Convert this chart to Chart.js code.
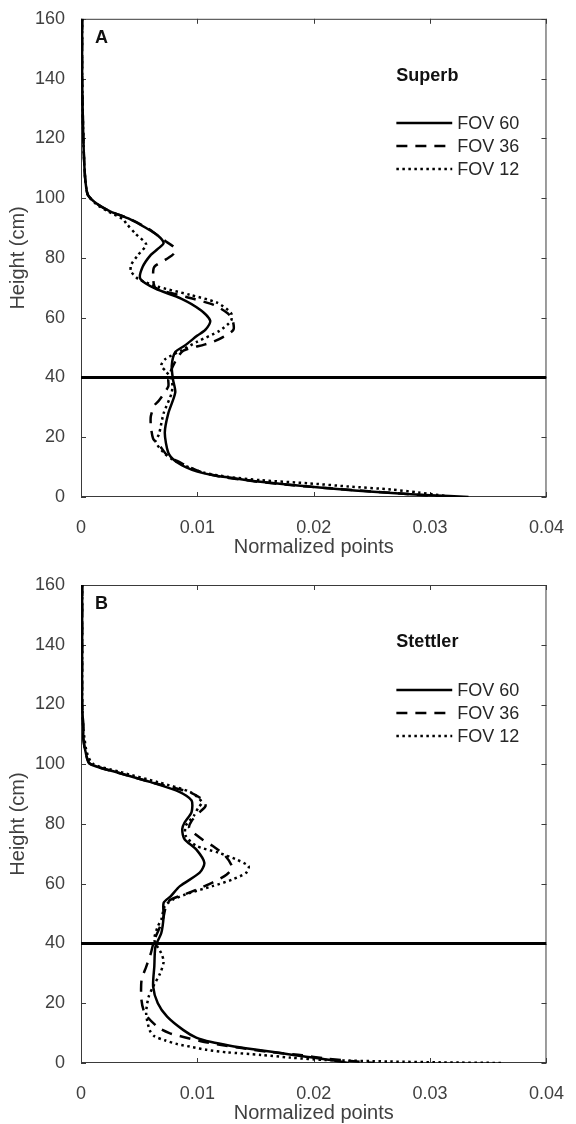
<!DOCTYPE html>
<html>
<head>
<meta charset="utf-8">
<title>Vertical point profiles</title>
<script src="https://cdn.jsdelivr.net/npm/chart.js@4.4.1/dist/chart.umd.min.js"></script>
<style>
  html, body { margin: 0; padding: 0; background: #fff; }
  #wrap { position: relative; width: 576px; height: 1124px; }
  canvas { position: absolute; left: 0; }
</style>
</head>
<body>
<div id="wrap">
  <canvas id="panelA" width="576" height="562" style="top:0"></canvas>
  <canvas id="panelB" width="576" height="562" style="top:562px"></canvas>
</div>
<script>
// ── Axis ticks ────────────────────────────────────────────
const xTickLabels = ['0', '0.01', '0.02', '0.03', '0.04'];
const yTickLabels = ['0', '20', '40', '60', '80', '100', '120', '140', '160'];
const seriesNames = ['FOV 60', 'FOV 36', 'FOV 12'];
const refHeight   = 40;

// ── Panel A (Superb) ─────────────────────────────────────
const hA60 = [160, 140, 120, 110, 105, 101, 98, 95.6, 93, 90, 87.5, 85, 83, 81, 77, 73, 69.7, 66.4, 62.5, 59, 56, 54, 50.6, 48.5, 44, 39.4, 35, 28, 21.5, 14.8, 12, 10, 8.5, 7.2, 6.2, 5.2, 4.2, 3.2, 2.2, 1.3, 0.6, 0];
const vA60 = [0.0001, 0.0001, 0.0002, 0.0003, 0.0004, 0.0006, 0.0014, 0.0025, 0.0042, 0.0056, 0.0066, 0.0071, 0.0066, 0.006, 0.0053, 0.0051, 0.0064, 0.0086, 0.0103, 0.0111, 0.0107, 0.010, 0.0089, 0.0081, 0.0078, 0.0079, 0.0081, 0.0075, 0.0072, 0.0075, 0.0081, 0.009, 0.010, 0.0115, 0.0133, 0.0152, 0.0177, 0.0205, 0.0235, 0.0267, 0.030, 0.0333];

const hA36 = [160, 140, 120, 110, 105, 101, 98, 95.6, 93, 90, 87.5, 85.5, 83.5, 81.5, 79.5, 77, 74, 70, 67, 64.3, 61.5, 59.5, 56, 53.5, 52, 51, 49, 46, 42, 39.4, 37, 32.3, 30.6, 27, 24, 19.5, 17.5, 13.5, 12, 10, 8, 6.5, 5.2, 4, 3, 2, 1, 0.4, 0];
const vA36 = [0.0001, 0.0001, 0.0002, 0.0003, 0.0004, 0.0006, 0.0014, 0.0025, 0.0042, 0.0057, 0.0066, 0.0073, 0.008, 0.008, 0.0073, 0.0063, 0.0062, 0.0064, 0.009, 0.0114, 0.0126, 0.013, 0.0131, 0.0122, 0.0114, 0.0106, 0.0088, 0.0082, 0.0077, 0.0075, 0.0075, 0.0067, 0.0063, 0.006, 0.006, 0.0062, 0.0067, 0.0075, 0.0083, 0.0093, 0.0106, 0.0125, 0.015, 0.018, 0.021, 0.0245, 0.028, 0.0303, 0.0315];

const hA12 = [160, 140, 120, 110, 105, 101, 98, 95.6, 93, 91.5, 88, 84.5, 81, 77.6, 75.5, 73, 70.5, 67.6, 65, 61.5, 59, 55.6, 52, 49, 46, 44, 42, 39.4, 35, 28, 21, 18.5, 14.5, 12.5, 10.5, 8.2, 6.8, 5.6, 4.6, 3.5, 2.5, 1.5, 0.8, 0];
const vA12 = [0.0001, 0.0001, 0.0002, 0.0003, 0.0004, 0.0006, 0.0013, 0.0023, 0.0036, 0.0039, 0.0047, 0.0056, 0.0049, 0.0043, 0.0043, 0.0049, 0.0065, 0.0094, 0.0117, 0.0129, 0.0129, 0.0119, 0.010, 0.0086, 0.0072, 0.0069, 0.0073, 0.0078, 0.0078, 0.0071, 0.0067, 0.0064, 0.0072, 0.0079, 0.0089, 0.0105, 0.0125, 0.0155, 0.0195, 0.023, 0.0267, 0.029, 0.0305, 0.032];

// ── Panel B (Stettler) ───────────────────────────────────
const hB60 = [160, 140, 120, 112, 108.6, 104, 100.2, 97.4, 94, 90.7, 87.9, 84, 80.5, 78.3, 74.9, 71.5, 67, 63.7, 59.2, 55.8, 53.6, 49, 43.5, 39, 32.3, 25.6, 20, 15.5, 11, 8.5, 7, 5.8, 4.6, 3.4, 2.2, 1, 0];
const vB60 = [0.0001, 0.0001, 0.0001, 0.0002, 0.0002, 0.0004, 0.00075, 0.003, 0.006, 0.0085, 0.0095, 0.0095, 0.0089, 0.0087, 0.0089, 0.0099, 0.0106, 0.0102, 0.0085, 0.0077, 0.0071, 0.0071, 0.0069, 0.0064, 0.0063, 0.0062, 0.0066, 0.0074, 0.0088, 0.0099, 0.0112, 0.0128, 0.0148, 0.017, 0.0192, 0.0215, 0.023];

const hB36 = [160, 140, 120, 112, 108.6, 104, 100.2, 97.4, 94, 90.7, 88, 86, 84, 81, 78.6, 74.9, 72.7, 69.3, 65.4, 63, 60.4, 57, 54.7, 52.5, 49, 45.7, 41.2, 36.7, 32.2, 27.7, 21, 16.5, 12, 10, 8.7, 7.3, 6.2, 5, 3.8, 2.6, 1.5, 0.7, 0];
const vB36 = [0.0001, 0.0001, 0.0001, 0.0002, 0.0002, 0.0004, 0.00075, 0.003, 0.006, 0.0093, 0.0105, 0.0107, 0.0102, 0.0095, 0.0093, 0.0104, 0.0113, 0.0124, 0.013, 0.0125, 0.0113, 0.0093, 0.0077, 0.0073, 0.0071, 0.0068, 0.0063, 0.006, 0.0056, 0.0052, 0.0052, 0.0055, 0.0066, 0.0076, 0.0088, 0.0103, 0.0118, 0.0138, 0.016, 0.019, 0.021, 0.0232, 0.0252];

const hB12 = [160, 140, 120, 112, 108.6, 104, 100.2, 97.5, 94, 90.7, 87.3, 85.6, 82.8, 79.4, 76, 72.7, 70.4, 68.2, 65.9, 63.7, 61.4, 59.2, 57, 54.7, 52.5, 48, 45.7, 41.2, 36.7, 33.9, 30, 25.6, 22, 16.5, 11, 9, 7.6, 6.3, 5.3, 4.4, 3.6, 2.7, 1.8, 1, 0.5, 0.2, 0];
const vB12 = [0.0001, 0.0001, 0.0001, 0.0002, 0.0003, 0.0005, 0.001, 0.0033, 0.0066, 0.0094, 0.0104, 0.0101, 0.0097, 0.009, 0.009, 0.0099, 0.0118, 0.0133, 0.0144, 0.0142, 0.013, 0.0113, 0.0094, 0.0079, 0.0072, 0.0069, 0.0066, 0.0063, 0.0069, 0.0071, 0.0068, 0.0062, 0.0058, 0.0056, 0.0059, 0.0063, 0.0072, 0.0083, 0.0096, 0.0108, 0.0125, 0.0155, 0.018, 0.021, 0.0265, 0.031, 0.0363];

// ── Styles ───────────────────────────────────────────────
const FONT   = "'Liberation Sans', Arial, Helvetica, sans-serif";
const DASHES = [[], [11, 8], [2.5, 3.5]];
const LINE_W = 2.5;

function toPoints(h, v) {
  return h.map((hh, i) => ({ x: v[i], y: hh }));
}

// box, inward ticks, panel letter, site name, legend
const framePlugin = {
  id: 'frame',
  beforeDatasetsDraw(chart) {
    const { ctx, chartArea: a, scales: { x, y } } = chart;
    ctx.save();
    ctx.strokeStyle = '#3a3a3a';
    ctx.lineWidth = 1;
    ctx.strokeRect(a.left + 0.5, a.top + 0.5, a.right - a.left - 1, a.bottom - a.top - 1);
    ctx.beginPath();
    x.ticks.forEach(t => {
      const px = Math.round(x.getPixelForValue(t.value)) + 0.5;
      ctx.moveTo(px, a.bottom); ctx.lineTo(px, a.bottom - 5);
      ctx.moveTo(px, a.top);    ctx.lineTo(px, a.top + 5);
    });
    y.ticks.forEach(t => {
      const py = Math.round(y.getPixelForValue(t.value)) + 0.5;
      ctx.moveTo(a.left, py);  ctx.lineTo(a.left + 5, py);
      ctx.moveTo(a.right, py); ctx.lineTo(a.right - 5, py);
    });
    ctx.stroke();
    ctx.restore();
  },
  afterDatasetsDraw(chart, args, opts) {
    const { ctx, chartArea: a, scales: { x, y } } = chart;
    ctx.save();
    ctx.fillStyle = '#111';
    ctx.textBaseline = 'middle';
    ctx.font = 'bold 18px ' + FONT;
    ctx.fillText(opts.tag, a.left + 14, a.top + 19);
    ctx.fillText(opts.site, x.getPixelForValue(0.0271), y.getPixelForValue(141));

    // legend
    const rows = [125, 117.3, 109.6];
    const x0 = x.getPixelForValue(0.0271), x1 = x.getPixelForValue(0.0319);
    ctx.font = '18px ' + FONT;
    ctx.fillStyle = '#262626';
    seriesNames.forEach((name, i) => {
      const py = Math.round(y.getPixelForValue(rows[i]));
      ctx.beginPath();
      ctx.setLineDash(DASHES[i]);
      ctx.lineWidth = LINE_W;
      ctx.strokeStyle = '#000';
      ctx.moveTo(x0, py); ctx.lineTo(x1, py);
      ctx.stroke();
      ctx.fillText(name, x1 + 5, py + 1);
    });
    ctx.restore();
  }
};

function makePanel(id, tag, site, series, padTop, xAxisH, titlePad) {
  const datasets = series.map((s, i) => ({
    label: seriesNames[i],
    data: toPoints(s[0], s[1]),
    showLine: true,
    borderColor: '#000',
    borderWidth: LINE_W,
    borderDash: DASHES[i],
    pointRadius: 0,
    tension: 0.25,
    order: 3 - i,
  }));
  datasets.push({
    label: 'ref',
    data: [{ x: 0, y: refHeight }, { x: 0.04, y: refHeight }],
    showLine: true,
    borderColor: '#000',
    borderWidth: 3,
    pointRadius: 0,
    order: 0,
  });

  return new Chart(document.getElementById(id), {
    type: 'scatter',
    data: { datasets },
    plugins: [framePlugin],
    options: {
      responsive: false,
      maintainAspectRatio: false,
      animation: false,
      layout: { padding: { top: padTop, right: 19, left: 0, bottom: 0 } },
      scales: {
        x: {
          type: 'linear', min: 0, max: 0.04,
          grid: { display: false },
          border: { display: false },
          ticks: {
            stepSize: 0.01, padding: 12, color: '#404040',
            font: { size: 18, family: FONT },
            callback: (v, i) => xTickLabels[i],
          },
          title: {
            display: true, text: 'Normalized points', color: '#404040',
            font: { size: 20, family: FONT, lineHeight: 1 },
            padding: { top: 0, bottom: titlePad },
          },
          afterFit: s => { s.height = xAxisH; },
        },
        y: {
          type: 'linear', min: 0, max: 160,
          grid: { display: false },
          border: { display: false },
          ticks: {
            stepSize: 20, padding: 8, color: '#404040',
            font: { size: 18, family: FONT },
            callback: (v, i) => yTickLabels[i],
          },
          title: {
            display: true, text: 'Height (cm)', color: '#404040',
            font: { size: 20, family: FONT, lineHeight: 1 },
            padding: { top: 8, bottom: 0 },
          },
          afterFit: s => { s.width = 81; },
        },
      },
      plugins: {
        legend: { display: false },
        tooltip: { enabled: false },
        frame: { tag, site },
      },
    },
  });
}

makePanel('panelA', 'A', 'Superb',
  [[hA60, vA60], [hA36, vA36], [hA12, vA12]], 18, 65, 5);
makePanel('panelB', 'B', 'Stettler',
  [[hB60, vB60], [hB36, vB36], [hB12, vB12]], 23, 61, 1);
</script>
</body>
</html>
